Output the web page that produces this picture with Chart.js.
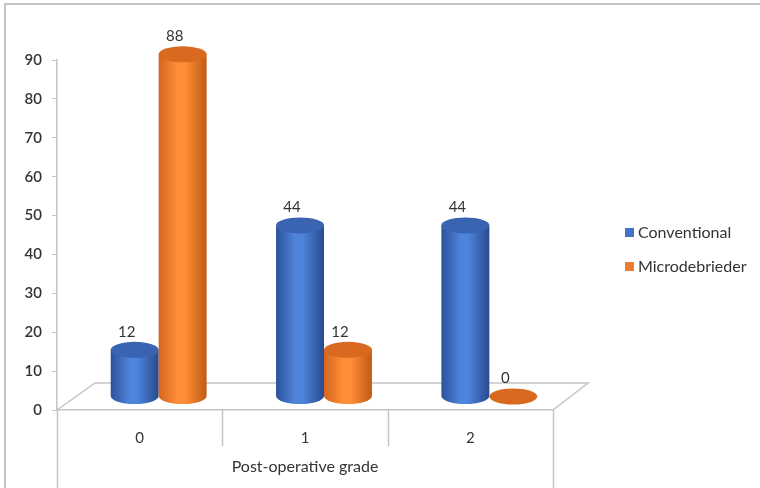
<!DOCTYPE html>
<html>
<head>
<meta charset="utf-8">
<script src="https://cdn.jsdelivr.net/npm/chart.js@4.4.1/dist/chart.umd.min.js"></script>
<style>
  html, body { margin: 0; padding: 0; background: #fff; overflow: hidden; }
  #wrap { position: relative; width: 760px; height: 488px; overflow: hidden; }
  #frame { position: absolute; left: 4px; top: 3px; width: 900px; height: 700px; border: 2px solid #c4c4c4; }
  #chart { position: absolute; left: 0; top: 0; }
  #legend { position: absolute; left: 625px; top: 222px; font-family: Lato, "Open Sans", sans-serif; font-size: 16px; color: #333; }
  #legend div { height: 34px; display: flex; align-items: flex-start; }
  #legend span.sw { display: inline-block; width: 9px; height: 9px; margin: 6px 4px 0 0; }
</style>
</head>
<body>
<div id="wrap">
  <div id="frame"></div>
  <canvas id="chart" width="760" height="488"></canvas>
  <div id="legend"></div>
</div>
<script>
const grades = ['0', '1', '2'];
const conventional = [12, 44, 44];
const microdebrieder = [88, 12, 0];
const seriesNames = ['Conventional', 'Microdebrieder'];
const yTicks = [0, 10, 20, 30, 40, 50, 60, 70, 80, 90];

const colors = {
  blue: { solid: '#4472C4', left: '#2c519a', mid: '#4f84dc', right: '#284a8e', top: '#3a63b2' },
  orange: { solid: '#ED7D31', left: '#d2661c', mid: '#ff8e38', right: '#c05a16', top: '#d9691f' }
};
const DEPTH_X = 38, DEPTH_Y = 27;
const gridColor = '#c4c4c4';
const textColor = '#333';
const fontFamily = 'Lato, "Open Sans", sans-serif';

// 3d floor, dividers, cylinders and value labels
const cylinderPlugin = {
  id: 'cylinders',
  beforeDatasetsDraw(chart) {
    const ctx = chart.ctx;
    const a = chart.chartArea;
    const xs = chart.scales.x;
    ctx.save();
    ctx.strokeStyle = gridColor;
    ctx.lineWidth = 1.5;
    ctx.beginPath();
    ctx.moveTo(a.left, a.bottom);
    ctx.lineTo(a.left + DEPTH_X, a.bottom - DEPTH_Y);
    ctx.lineTo(a.right + DEPTH_X - 3, a.bottom - DEPTH_Y);
    ctx.lineTo(a.right, a.bottom);
    ctx.stroke();
    // category dividers
    const step = (a.right - a.left) / grades.length;
    for (let i = 0; i <= grades.length; i++) {
      const x = Math.round(xs.getPixelForValue(0) - step / 2 + i * step) + 0.5;
      const outer = i === 0 || i === grades.length;
      ctx.beginPath();
      ctx.moveTo(x, a.bottom);
      ctx.lineTo(x, outer ? chart.height : a.bottom + 36);
      ctx.stroke();
    }
    ctx.restore();

    const dx = DEPTH_X / 2, dy = -DEPTH_Y / 2;
    const sets = [colors.blue, colors.orange];
    const bars = [];
    chart.data.datasets.forEach((ds, di) => {
      chart.getDatasetMeta(di).data.forEach((el, i) => {
        bars.push({ el, c: sets[di], v: ds.data[i] });
      });
    });
    bars.sort((p, q) => p.el.x - q.el.x);
    bars.forEach(({ el, c, v }) => {
      const x = el.x + dx, top = el.y + dy, base = el.base + dy;
      const rx = el.width / 2, ry = 8;
      ctx.save();
      if (v > 0) {
        const g = ctx.createLinearGradient(x - rx, 0, x + rx, 0);
        g.addColorStop(0, c.left);
        g.addColorStop(0.4, c.mid);
        g.addColorStop(0.55, c.mid);
        g.addColorStop(1, c.right);
        ctx.fillStyle = g;
        ctx.beginPath();
        ctx.moveTo(x - rx, top);
        ctx.lineTo(x - rx, base);
        ctx.ellipse(x, base, rx, ry, 0, Math.PI, 0, true);
        ctx.lineTo(x + rx, top);
        ctx.closePath();
        ctx.fill();
      }
      ctx.fillStyle = c.top;
      ctx.beginPath();
      ctx.ellipse(x, top, rx, ry, 0, 0, Math.PI * 2);
      ctx.fill();
      ctx.fillStyle = textColor;
      ctx.font = '15px ' + fontFamily;
      ctx.textAlign = 'center';
      ctx.textBaseline = 'middle';
      ctx.fillText(String(v), x - 8, top - 18);
      ctx.restore();
    });
    return false;
  }
};

new Chart(document.getElementById('chart'), {
  type: 'bar',
  data: {
    labels: grades,
    datasets: [
      { label: seriesNames[0], data: conventional, backgroundColor: colors.blue.solid },
      { label: seriesNames[1], data: microdebrieder, backgroundColor: colors.orange.solid }
    ]
  },
  options: {
    responsive: false,
    animation: false,
    layout: { padding: { top: 60, right: 207, left: 0, bottom: 0 } },
    categoryPercentage: 0.58,
    barPercentage: 1,
    plugins: { legend: { display: false }, tooltip: { enabled: false } },
    scales: {
      x: {
        afterFit(s) { s.height = 78; },
        grid: { display: false, drawTicks: false },
        border: { color: gridColor, width: 1.5 },
        ticks: { color: textColor, padding: 19, font: { family: fontFamily, size: 15 } },
        title: { display: true, text: 'Post-operative grade', color: textColor, padding: { top: 0, bottom: 12 }, font: { family: fontFamily, size: 16 } }
      },
      y: {
        min: 0,
        max: 90,
        afterFit(s) { s.width = 57; },
        afterBuildTicks(s) { s.ticks = yTicks.map(v => ({ value: v })); },
        grid: { drawOnChartArea: false, drawTicks: true, tickLength: 5, color: gridColor },
        border: { color: gridColor, width: 1.5 },
        ticks: { color: textColor, padding: 10, font: { family: fontFamily, size: 15, weight: '600' } }
      }
    }
  },
  plugins: [cylinderPlugin]
});

const legend = document.getElementById('legend');
[colors.blue.solid, colors.orange.solid].forEach((col, i) => {
  const row = document.createElement('div');
  row.innerHTML = '<span class="sw" style="background:' + col + '"></span>' + seriesNames[i];
  legend.appendChild(row);
});
</script>
</body>
</html>
